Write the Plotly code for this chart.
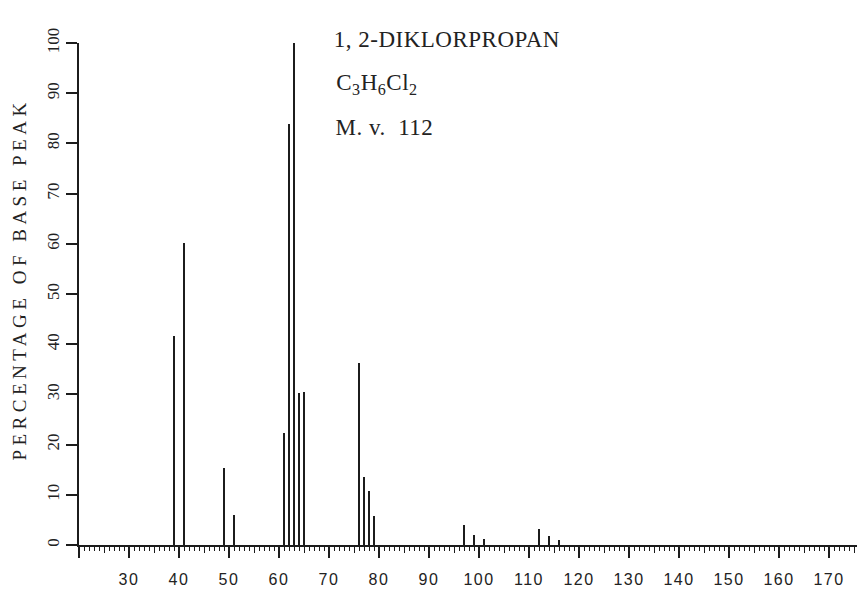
import plotly.graph_objects as go

# Mass spectrum of 1,2-dichloropropane: m/z and relative intensity (% of base peak)
mz = [39, 41, 49, 51, 61, 62, 63, 64, 65, 76, 77, 78, 79, 97, 99, 101, 112, 114, 116]
intensity = [41.7, 60.1, 15.4, 6.0, 22.4, 83.8, 100.0, 30.2, 30.5,
             36.2, 13.6, 10.8, 5.8, 4.0, 1.9, 1.1, 3.2, 1.8, 1.0]

x_major = list(range(20, 171, 10))
x_labels = ["" if v == 20 else str(v) for v in x_major]
y_major = list(range(0, 101, 10))

INK = "#1c1c1c"
SERIF = "Liberation Serif, DejaVu Serif, serif"
SANS = "Liberation Sans, Arial, sans-serif"

fig = go.Figure()
fig.add_trace(go.Bar(x=mz, y=intensity, width=0.38, marker=dict(color=INK, line=dict(width=0)),
                     showlegend=False))
# secondary axis only carries the half-decade ticks (every 5 units)
fig.add_trace(go.Scatter(x=[None], y=[None], xaxis="x2", showlegend=False))

fig.update_layout(
    width=865, height=591,
    margin=dict(l=79, r=8, t=43, b=46),
    paper_bgcolor="white", plot_bgcolor="white",
    bargap=0,
    xaxis=dict(
        range=[20, 175.6], showgrid=False, zeroline=False, automargin=False,
        showline=True, linecolor=INK, linewidth=2,
        tickmode="array", tickvals=x_major, ticktext=x_labels,
        ticks="outside", ticklen=11, tickwidth=1.6, tickcolor=INK,
        ticklabelstandoff=8,
        tickfont=dict(family=SANS, size=16, color="#222"),
        minor=dict(dtick=1, ticks="outside", ticklen=4, tickwidth=1.2, tickcolor=INK, showgrid=False),
    ),
    xaxis2=dict(
        overlaying="x", range=[20, 175.6], side="bottom", showgrid=False, zeroline=False,
        automargin=False, showline=False, tickmode="linear", tick0=20, dtick=5,
        ticks="outside", ticklen=7, tickwidth=1.4, tickcolor=INK, showticklabels=False,
    ),
    yaxis=dict(
        range=[0, 100], showgrid=False, zeroline=False, automargin=False,
        showline=True, linecolor=INK, linewidth=2,
        tickmode="array", tickvals=y_major,
        ticks="outside", ticklen=11, tickwidth=1.6, tickcolor=INK,
        tickangle=-90,
        tickfont=dict(family=SERIF, size=17, color="#222"),
    ),
    annotations=[
        dict(text="PERCENTAGE OF BASE PEAK", xref="paper", yref="paper", x=-0.076, y=0.53,
             xanchor="center", yanchor="middle", textangle=-90, showarrow=False,
             font=dict(family=SERIF, size=19, color="#222")),
        dict(text="1, 2-DIKLORPROPAN", xref="paper", yref="paper", x=0.33, y=1.006,
             xanchor="left", yanchor="middle", showarrow=False,
             font=dict(family=SERIF, size=23, color="#222")),
        dict(text="C<sub>3</sub>H<sub>6</sub>Cl<sub>2</sub>", xref="paper", yref="paper",
             x=0.33, y=0.918, xanchor="left", yanchor="middle", showarrow=False,
             font=dict(family=SERIF, size=23, color="#222")),
        dict(text="M. v.  112", xref="paper", yref="paper", x=0.33, y=0.832,
             xanchor="left", yanchor="middle", showarrow=False,
             font=dict(family=SERIF, size=23, color="#222")),
    ],
)

# typewriter-style letter spacing for the printed labels
spacing_js = """
var gd = document.getElementById('{plot_id}');
function spaceOut() {
  gd.querySelectorAll('text.annotation-text').forEach(function (t) {
    t.style.letterSpacing = t.textContent.indexOf('PERCENTAGE') === 0 ? '4.5px' : '0.5px';
  });
  gd.querySelectorAll('g.xtick text').forEach(function (t) { t.style.letterSpacing = '1.5px'; });
}
spaceOut();
gd.on('plotly_afterplot', spaceOut);
"""

fig.write_html("out.html", post_script=spacing_js)
